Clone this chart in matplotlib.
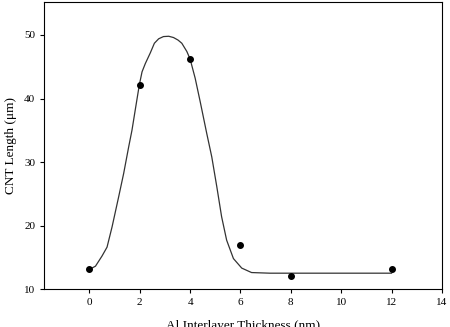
import matplotlib
matplotlib.use("Agg")
from matplotlib import pyplot as plt

# measured points
thickness = [0, 2, 4, 6, 8, 12]
length = [13.1, 42.1, 46.2, 16.9, 12.0, 13.1]

# fitted curve
fit_x = [0.0, 0.24, 0.5, 0.7, 0.9, 1.16, 1.36, 1.56, 1.69, 1.82, 1.98, 2.09, 2.22,
         2.42, 2.58, 2.75, 2.94, 3.15, 3.34, 3.52, 3.67, 3.87, 4.0, 4.2, 4.4, 4.66,
         4.86, 5.06, 5.25, 5.45, 5.72, 6.05, 6.44, 7.17, 12.0]
fit_y = [13.1, 13.6, 15.2, 16.6, 19.8, 24.5, 28.2, 32.4, 35.0, 38.2, 42.1, 44.2, 45.5,
         47.2, 48.7, 49.4, 49.75, 49.8, 49.6, 49.2, 48.7, 47.4, 46.2, 43.2, 39.5, 34.5,
         30.8, 26.1, 21.4, 17.7, 14.8, 13.3, 12.6, 12.5, 12.5]

x_ticks = [0, 2, 4, 6, 8, 10, 12, 14]
y_ticks = [10, 20, 30, 40, 50]

plt.rcParams['font.family'] = ['Liberation Serif', 'DejaVu Serif']

fig = plt.figure(figsize=(4.5, 3.27), dpi=100)
ax = fig.add_axes([0.098, 0.116, 0.884, 0.878])

ax.plot(fit_x, fit_y, color='#333333', linewidth=0.9)
ax.plot(thickness, length, 'o', color='black', markersize=4)

ax.set_xlim(-1.8, 14)
ax.set_ylim(10, 55.2)
ax.set_xticks(x_ticks)
ax.set_yticks(y_ticks)
ax.tick_params(direction='out', length=3, labelsize=8, width=0.8)

ax.set_xlabel('Al Interlayer Thickness (nm)', fontsize=9.5, labelpad=9)
ax.set_ylabel('CNT Length (μm)', fontsize=9.5, labelpad=5)

for s in ax.spines.values():
    s.set_linewidth(0.8)

plt.savefig('out.png', dpi=100)
